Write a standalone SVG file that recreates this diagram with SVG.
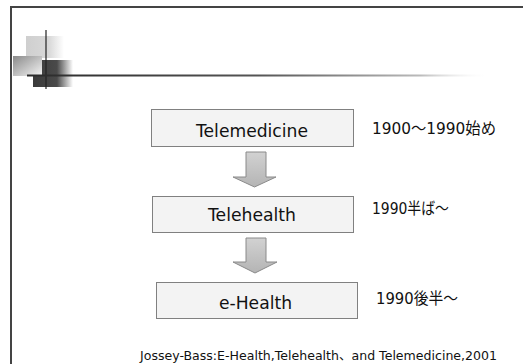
<svg xmlns="http://www.w3.org/2000/svg" width="523" height="364" viewBox="0 0 523 364">
<defs>
<style>
.box{fill:#f3f3f3;stroke:#808080;stroke-width:1}
.lbl{font-family:"DejaVu Sans","Liberation Sans",sans-serif;font-size:17.5px;fill:#111;text-anchor:middle}
.note{font-family:"DejaVu Sans","Noto Sans CJK JP",sans-serif;font-size:16px;fill:#111}
.foot{font-family:"DejaVu Sans","Noto Sans CJK JP",sans-serif;font-size:12.5px;fill:#111}
.arr{fill:url(#ag);stroke:#8a8a8a;stroke-width:1}
</style>
<linearGradient id="ag" x1="0" y1="0" x2="0" y2="1">
<stop offset="0" stop-color="#d2d2d2"/>
<stop offset="1" stop-color="#b4b4b4"/>
</linearGradient>
<linearGradient id="hl" x1="0" y1="0" x2="1" y2="0">
<stop offset="0" stop-color="#2a2a2a"/>
<stop offset="0.5" stop-color="#555"/>
<stop offset="0.85" stop-color="#bbb"/>
<stop offset="1" stop-color="#fff" stop-opacity="0"/>
</linearGradient>
<linearGradient id="lightSq" x1="0" y1="0" x2="1" y2="0">
<stop offset="0" stop-color="#cfcfcf"/>
<stop offset="0.6" stop-color="#d8d8d8"/>
<stop offset="1" stop-color="#fff"/>
</linearGradient>
<linearGradient id="darkSq" x1="0" y1="0" x2="1" y2="0">
<stop offset="0" stop-color="#3a3a3a"/>
<stop offset="0.6" stop-color="#4a4a4a"/>
<stop offset="1" stop-color="#fff"/>
</linearGradient>
<linearGradient id="gradSq" x1="0" y1="0" x2="1" y2="1">
<stop offset="0" stop-color="#8a8a8a"/>
<stop offset="1" stop-color="#f4f4f4"/>
</linearGradient>
</defs>
<rect x="0" y="0" width="523" height="364" fill="#fff"/>
<rect x="11" y="7" width="600" height="400" fill="none" stroke="#444" stroke-width="2"/>
<g id="decoration">
<rect x="26" y="36" width="38" height="22" fill="url(#lightSq)"/>
<rect x="33" y="60" width="40" height="27" fill="url(#darkSq)"/>
<rect x="13" y="56" width="29" height="20" fill="url(#gradSq)"/>
<line x1="46" y1="30" x2="46" y2="89" stroke="#222" stroke-width="1.2"/>
<rect x="27" y="74.5" width="463" height="2" fill="url(#hl)"/>
</g>
<g id="connectors">
<polygon class="arr" points="246,152 266,152 266,177 276,177 254.5,187 233,177 246,177"/>
<polygon class="arr" points="246,238 266,238 266,262 277,262 255,273 233,262 246,262"/>
</g>
<g id="telemedicine">
<rect class="box" x="151.5" y="109.5" width="202" height="37"/>
<text class="lbl" x="252" y="137" textLength="112" lengthAdjust="spacingAndGlyphs">Telemedicine</text>
</g>
<g id="telehealth">
<rect class="box" x="152.5" y="196.5" width="201" height="36"/>
<text class="lbl" x="252" y="221" textLength="88" lengthAdjust="spacingAndGlyphs">Telehealth</text>
</g>
<g id="ehealth">
<rect class="box" x="156.5" y="282.5" width="201" height="36"/>
<text class="lbl" x="255.5" y="309" textLength="73" lengthAdjust="spacingAndGlyphs">e-Health</text>
</g>
<g id="notes">
<text class="note" x="372" y="134" textLength="124" lengthAdjust="spacingAndGlyphs">1900～1990始め</text>
<text class="note" x="372" y="214" textLength="77" lengthAdjust="spacingAndGlyphs">1990半ば～</text>
<text class="note" x="376" y="304" textLength="82" lengthAdjust="spacingAndGlyphs">1990後半～</text>
</g>
<text class="foot" x="140" y="360" textLength="357" lengthAdjust="spacingAndGlyphs">Jossey-Bass:E-Health,Telehealth、and Telemedicine,2001</text>
</svg>
